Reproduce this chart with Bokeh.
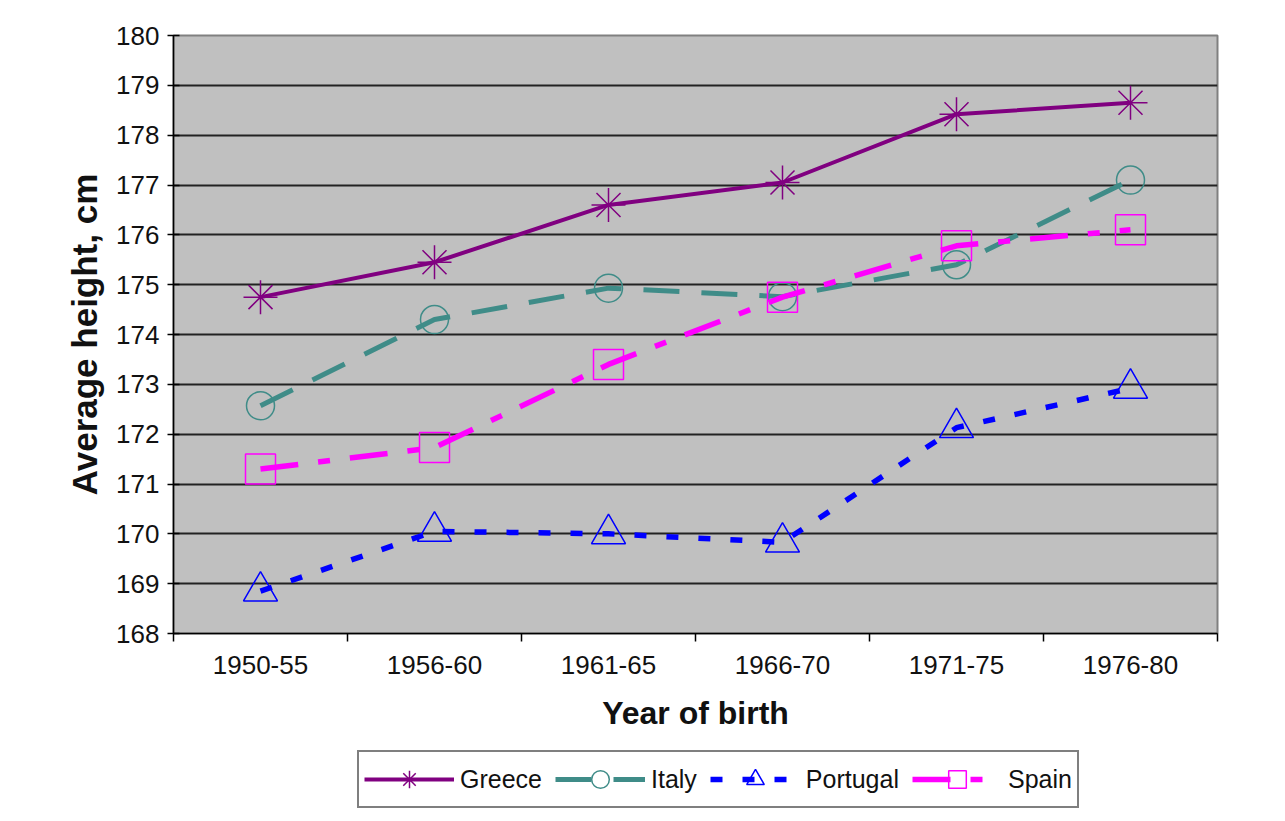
from bokeh.plotting import figure
from bokeh.layouts import column
from bokeh.models import (Range1d, FixedTicker, CustomJSTickFormatter, Legend, LegendItem)
from bokeh.embed import file_html
from bokeh.resources import INLINE

categories = ["1950-55", "1956-60", "1961-65", "1966-70", "1971-75", "1976-80"]
greece = [174.75, 175.45, 176.6, 177.05, 178.42, 178.65]
italy = [172.57, 174.3, 174.93, 174.76, 175.4, 177.1]
portugal = [168.85, 170.05, 170.0, 169.83, 172.13, 172.92]
spain = [171.3, 171.73, 173.4, 174.75, 175.78, 176.1]
y_ticks = list(range(168, 181))

xs = [i + 0.5 for i in range(len(categories))]

p = figure(output_backend="svg", toolbar_location=None,
           frame_width=1044, frame_height=598,
           min_border_left=173, min_border_right=60,
           min_border_top=35, min_border_bottom=117,
           x_range=Range1d(0, len(categories)), y_range=Range1d(168, 180))

p.background_fill_color = "#c0c0c0"
p.border_fill_color = "white"
p.outline_line_color = "#808080"
p.outline_line_width = 2

FONT = "Liberation Sans"

# x axis
p.xaxis.ticker = FixedTicker(ticks=xs, minor_ticks=list(range(len(categories) + 1)))
p.xaxis.formatter = CustomJSTickFormatter(args=dict(labels=categories),
                                          code="return labels[Math.floor(tick)];")
p.xaxis.major_tick_out = 0
p.xaxis.major_tick_in = 0
p.xaxis.minor_tick_out = 8
p.xaxis.minor_tick_in = 0
p.xaxis.minor_tick_line_color = "black"
p.xaxis.minor_tick_line_width = 1.5
p.xaxis.axis_line_color = "black"
p.xaxis.axis_line_width = 1.5
p.xaxis.major_label_text_font = FONT
p.xaxis.major_label_text_font_size = "26px"
p.xaxis.major_label_text_color = "#111111"
p.xaxis.major_label_standoff = 14
p.xaxis.axis_label = "Year of birth"
p.xaxis.axis_label_text_font = FONT
p.xaxis.axis_label_text_font_style = "bold"
p.xaxis.axis_label_text_font_size = "32px"
p.xaxis.axis_label_text_color = "#111111"
p.xaxis.axis_label_standoff = 18

# y axis
p.yaxis.ticker = FixedTicker(ticks=y_ticks, minor_ticks=[])
p.yaxis.major_tick_in = 6
p.yaxis.major_tick_out = 6
p.yaxis.major_tick_line_width = 1.5
p.yaxis.axis_line_color = "black"
p.yaxis.axis_line_width = 1.5
p.yaxis.major_label_text_font = FONT
p.yaxis.major_label_text_font_size = "26px"
p.yaxis.major_label_text_color = "#111111"
p.yaxis.major_label_standoff = 8
p.yaxis.axis_label = "Average height, cm"
p.yaxis.axis_label_text_font = FONT
p.yaxis.axis_label_text_font_style = "bold"
p.yaxis.axis_label_text_font_size = "35px"
p.yaxis.axis_label_text_color = "#111111"
p.yaxis.axis_label_standoff = 9

p.xgrid.visible = False
p.ygrid.ticker = FixedTicker(ticks=y_ticks)
p.ygrid.grid_line_color = "#222222"
p.ygrid.grid_line_width = 1.8

series = [
    ("Greece", greece, "#800080", "solid", 4, "asterisk", 34),
    ("Italy", italy, "#3f8c88", "36 22", 5, "circle", 28),
    ("Portugal", portugal, "#0000ff", "12 20", 5.5, "triangle", 34),
    ("Spain", spain, "#ff00ff", "38 20 12 20", 5.5, "square", 30),
]

# small figure below the chart that hosts the legend (hidden copies of the series)
p2 = figure(output_backend="svg", toolbar_location=None,
            frame_width=1044, frame_height=70,
            min_border_left=173, min_border_right=60,
            min_border_top=0, min_border_bottom=0,
            x_range=Range1d(0, 1), y_range=Range1d(0, 1))
p2.axis.visible = False
p2.grid.visible = False
p2.outline_line_color = None
p2.background_fill_color = "white"
p2.border_fill_color = "white"

items = []
for name, vals, color, dash, lw, marker, size in series:
    p.line(xs, vals, line_color=color, line_width=lw, line_dash=dash)
    p.scatter(xs, vals, marker=marker, size=size, line_color=color,
              fill_color=None, line_width=1.5)
    r1 = p2.line(xs, vals, line_color=color, line_width=lw, line_dash=dash)
    r2 = p2.scatter(xs, vals, marker=marker, size=size, line_color=color,
                    fill_color=None, line_width=1.5)
    items.append(LegendItem(label=name, renderers=[r1, r2]))

legend = Legend(items=items, orientation="horizontal", location=(184, 12),
                glyph_width=90, glyph_height=44, label_standoff=6, spacing=13,
                padding=5, margin=0,
                label_text_font=FONT, label_text_font_size="25px",
                label_text_color="#111111",
                border_line_color="black", border_line_width=2.5,
                background_fill_color="white")
p2.add_layout(legend)

open("out.html", "w").write(file_html(column(p, p2, spacing=0), INLINE))
